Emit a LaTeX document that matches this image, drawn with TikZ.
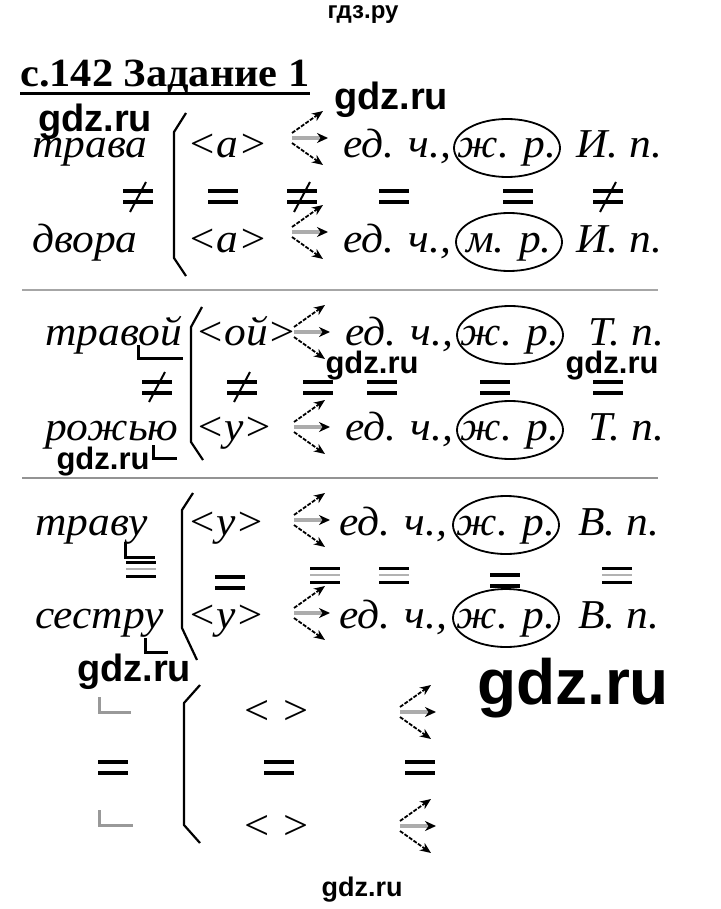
\documentclass[tikz,border=0pt]{standalone}
\usepackage{fontspec}
\setmainfont{Liberation Serif}
\newfontfamily\rowfont[FakeStretch=1.06]{Liberation Serif}
\newfontfamily\wmfont{Liberation Sans}
\usetikzlibrary{arrows.meta,shapes.geometric}

\tikzset{
  word/.style={font=\rowfont\itshape\fontsize{41}{41}\selectfont, anchor=base west, inner sep=0pt},
  gender/.style={word, anchor=base, draw, ellipse, line width=1.8pt, inner xsep=-12pt, inner ysep=0pt,
    text height=26pt, text depth=6pt, minimum width=106pt, minimum height=58pt},
  brace/.style={line width=2.2pt, line join=round},
  endmark/.style={line width=3pt},
  sepline/.style={line width=2.5pt, gray!70},
  wm/.style={font=\wmfont\bfseries, inner sep=0pt},
  fan/.pic={
    \draw[line width=1.8pt, dash pattern=on 4pt off 1.5pt, -{Stealth[length=11pt,width=9pt]}] (0,-5) -- (31,-27);
    \draw[line width=1.8pt, dash pattern=on 4pt off 1.5pt, -{Stealth[length=11pt,width=9pt]}] (0,5) -- (31,27);
    \draw[line width=3.2pt, gray!65, -{Stealth[length=11pt,width=10pt,color=black]}] (0,0) -- (36,0);
  },
  eqsign/.pic={\draw[line width=4pt] (-15,-5.5) -- (15,-5.5) (-15,5.5) -- (15,5.5);},
  neqsign/.pic={\draw[line width=4pt] (-15,-5.5) -- (15,-5.5) (-15,5.5) -- (15,5.5);
    \draw[line width=2pt] (-8,15) -- (8,-15);},
  tripsign/.pic={\draw[line width=3pt] (-15,-7) -- (15,-7) (-15,7) -- (15,7);
    \draw[line width=2pt, gray!60] (-15,0) -- (15,0);}
}

\begin{document}
\begin{tikzpicture}[x=1pt,y=-1pt]
  \useasboundingbox[fill=white] (0,0) rectangle (720,909);

  % title
  \node[wm, font=\wmfont\fontsize{24}{24}\selectfont\bfseries] (top) at (363,15) {гдз.ру};
  \node[inner sep=0pt, anchor=base west, font=\rowfont\bfseries\fontsize{40}{40}\selectfont] (title) at (20,87) {с.142 Задание 1};
  \draw[line width=3pt] (title.south west |- 0,94) -- (title.south east |- 0,94);

  % section 1
  \node[word] (w11) at (32,158) {трава};
  \node[word] (w12) at (32,252) {двора};
  \draw[brace] (186,113) -- (174,132) -- (174,258) -- (186,276);
  \node[word] (e11) at (187,158) {<а>};
  \node[word] (e12) at (187,252) {<а>};
  \pic at (292,138) {fan};
  \pic at (292,232) {fan};
  \node[word] (n11) at (343,158) {ед. ч.,};
  \node[word] (n12) at (343,252) {ед. ч.,};
  \node[gender] (g11) at (507,158) {ж. р.};
  \node[gender] (g12) at (509,252) {м. р.};
  \node[word] (c11) at (576,158) {И. п.};
  \node[word] (c12) at (576,252) {И. п.};
  \foreach \x/\s in {138/neqsign, 223/eqsign, 302/neqsign, 394/eqsign, 518/eqsign, 608/neqsign}
    \pic at (\x,197) {\s};
  \draw[sepline] (22,290) -- (658,290);

  % section 2
  \node[word] (w21) at (45,345) {травой};
  \node[word] (w22) at (45,440) {рожью};
  \draw[endmark] (138,345) |- (183,358);
  \draw[endmark] (153,445) |- (177,458);
  \draw[brace] (202,307) -- (191,327) -- (191,442) -- (203,460);
  \node[word] (e21) at (195,345) {<ой>};
  \node[word] (e22) at (195,440) {<у>};
  \pic at (294,332) {fan};
  \pic at (294,427) {fan};
  \node[word] (n21) at (345,345) {ед. ч.,};
  \node[word] (n22) at (345,440) {ед. ч.,};
  \node[gender] (g21) at (510,345) {ж. р.};
  \node[gender] (g22) at (510,440) {ж. р.};
  \node[word] (c21) at (588,345) {Т. п.};
  \node[word] (c22) at (588,440) {Т. п.};
  \foreach \x/\s in {157/neqsign, 242/neqsign, 318/eqsign, 382/eqsign, 495/eqsign, 608/eqsign}
    \pic at (\x,387) {\s};
  \draw[sepline, gray!85] (22,478) -- (658,478);

  % section 3
  \node[word] (w31) at (35,535) {траву};
  \node[word] (w32) at (35,628) {сестру};
  \draw[endmark] (125,542) |- (155,557);
  \draw[endmark] (145,638) |- (168,652);
  \draw[brace] (193,493) -- (182,510) -- (182,628) -- (197,660);
  \node[word] (e31) at (187,535) {<у>};
  \node[word] (e32) at (187,628) {<у>};
  \pic at (294,520) {fan};
  \pic at (294,613) {fan};
  \node[word] (n31) at (339,535) {ед. ч.,};
  \node[word] (n32) at (339,628) {ед. ч.,};
  \node[gender] (g31) at (506,535) {ж. р.};
  \node[gender] (g32) at (506,628) {ж. р.};
  \node[word] (c31) at (578,535) {В. п.};
  \node[word] (c32) at (578,628) {В. п.};
  \pic at (141,569) {tripsign};
  \pic at (230,582) {eqsign};
  \pic at (505,580) {eqsign};
  \foreach \x in {325, 394, 617}
    \pic at (\x,575) {tripsign};

  % empty scheme
  \draw[endmark, gray!80] (99,697) |- (131,712);
  \draw[endmark, gray!80] (99,810) |- (133,825);
  \draw[brace] (200,685) -- (184,703) -- (184,825) -- (200,843);
  \node[word, anchor=center, font=\rowfont\fontsize{42}{42}\selectfont] (e41) at (277,712) {<\hspace{14pt}>};
  \node[word, anchor=center, font=\rowfont\fontsize{42}{42}\selectfont] (e42) at (277,827) {<\hspace{14pt}>};
  \pic at (400,712) {fan};
  \pic at (400,826) {fan};
  \foreach \x in {113, 279, 420}
    \pic at (\x,767) {eqsign};

  % watermarks
  \foreach \x/\y/\s [count=\i] in {95/122/38, 391/100/38, 372/366/31, 612/366/31, 103/462/31, 134/672/38, 573/688/64, 362/890/27}
    \node[wm, font=\wmfont\fontsize{\s}{\s}\selectfont\bfseries] (gdz\i) at (\x,\y) {gdz.ru};
\end{tikzpicture}
\end{document}
